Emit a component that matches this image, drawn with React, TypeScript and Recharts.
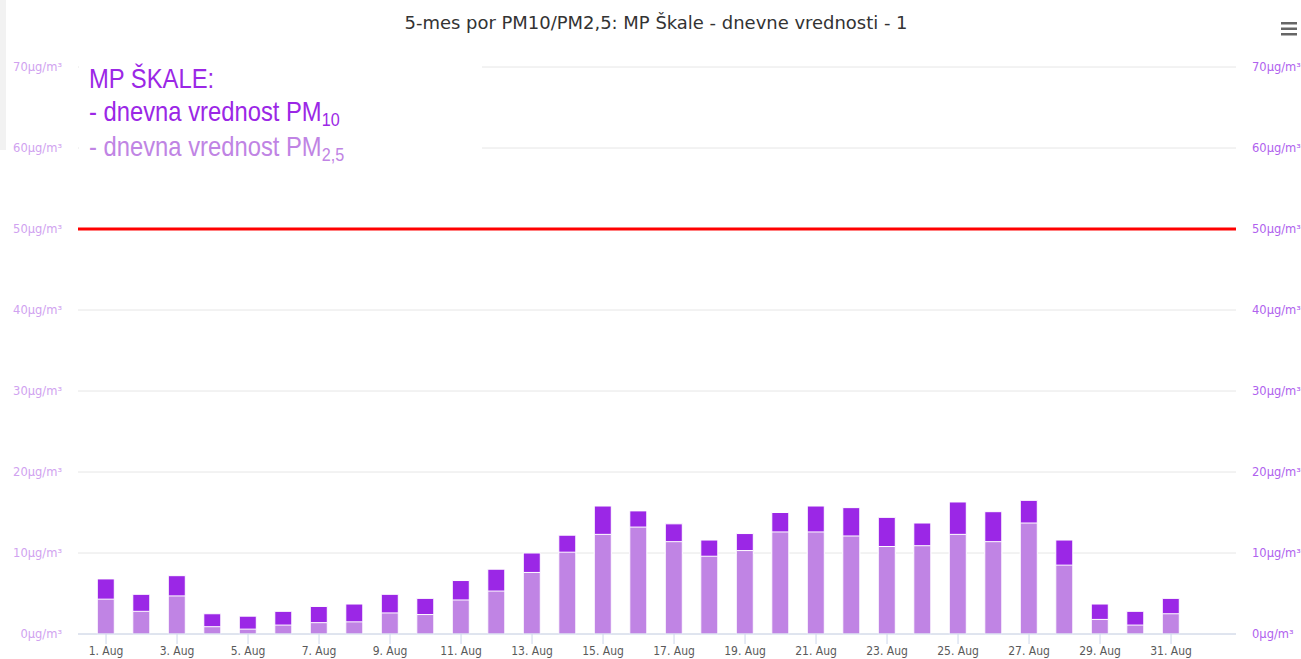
import React from "react";
import { ComposedChart, Bar, Line, XAxis, YAxis, CartesianGrid, ReferenceLine } from "recharts";

const days = [1, 2, 3, 4, 5, 6, 7, 8, 9, 10, 11, 12, 13, 14, 15, 16, 17, 18, 19, 20, 21, 22, 23, 24, 25, 26, 27, 28, 29, 30, 31];
const pm10 = [6.8, 4.9, 7.2, 2.5, 2.2, 2.8, 3.4, 3.7, 4.9, 4.4, 6.6, 8.0, 10.0, 12.2, 15.8, 15.2, 13.6, 11.6, 12.4, 15.0, 15.8, 15.6, 14.4, 13.7, 16.3, 15.1, 16.5, 11.6, 3.7, 2.8, 4.4];
const pm25 = [4.3, 2.8, 4.7, 0.9, 0.6, 1.1, 1.4, 1.5, 2.6, 2.4, 4.2, 5.3, 7.6, 10.1, 12.3, 13.2, 11.4, 9.6, 10.3, 12.6, 12.6, 12.1, 10.8, 10.9, 12.3, 11.4, 13.7, 8.5, 1.8, 1.1, 2.5];
const dayTicks = [1, 3, 5, 7, 9, 11, 13, 15, 17, 19, 21, 23, 25, 27, 29, 31];
const yTicks = [0, 10, 20, 30, 40, 50, 60, 70];
const limitValue = 50;

const title = "5-mes por PM10/PM2,5: MP Škale - dnevne vrednosti - 1";

const data = days.map((d, i) => ({ day: d, pm10: pm10[i], pm25: pm25[i] }));

const DARK = "#9b27e6";
const LIGHT = "#c084e4";
const tickFont = "DejaVu Sans, sans-serif";

export default function App() {
  const fmtY = (v: number) => `${v}µg/m³`;
  return (
    <div style={{ position: "absolute", left: 0, top: 0, width: 1301, height: 659, background: "#fff" }}>
      <ComposedChart width={1301} height={659} data={data} margin={{ top: 67, right: 0, bottom: 0, left: 0 }}>
        <CartesianGrid vertical={false} stroke="#e6e6e6" />
        <XAxis
          dataKey="day"
          type="number"
          domain={[0.21, 32.83]}
          allowDataOverflow
          ticks={dayTicks}
          tickFormatter={(d: number) => `${d}. Aug`}
          height={25}
          tickSize={10}
          tickMargin={2}
          stroke="#ccd6eb"
          tick={{ fill: "#5a5a5a", fontSize: 12, fontFamily: "DejaVu Sans Condensed, DejaVu Sans" }}
        />
        <XAxis xAxisId="b" dataKey="day" type="number" domain={[0.21, 32.83]} allowDataOverflow hide />
        <YAxis
          domain={[0, 70]}
          ticks={yTicks}
          width={78}
          axisLine={false}
          tickLine={false}
          tickSize={0}
          tickMargin={16}
          tickFormatter={fmtY}
          tick={{ fill: "#d0a2f0", fontSize: 11.5, fontFamily: tickFont }}
        />
        <YAxis
          yAxisId="r"
          orientation="right"
          domain={[0, 70]}
          ticks={yTicks}
          width={65}
          axisLine={false}
          tickLine={false}
          tickSize={0}
          tickMargin={16}
          tickFormatter={fmtY}
          tick={{ fill: "#b062ee", fontSize: 11.5, fontFamily: tickFont }}
        />
        <Bar dataKey="pm10" fill={DARK} stroke="#fff" strokeWidth={1} barSize={17} isAnimationActive={false} />
        <Bar xAxisId="b" dataKey="pm25" fill={LIGHT} stroke="#fff" strokeWidth={1} barSize={17} isAnimationActive={false} />
        {/* invisible series so the right axis gets drawn */}
        <Line yAxisId="r" dataKey="pm10" stroke="none" dot={false} activeDot={false} legendType="none" isAnimationActive={false} />
        <ReferenceLine y={limitValue} stroke="#ff0000" strokeWidth={3} />
      </ComposedChart>
      <svg width={1301} height={659} style={{ position: "absolute", left: 0, top: 0, pointerEvents: "none" }}>
        <rect x={0} y={0} width={6} height={150} fill="#f2f2f2" />
        <text x={656} y={29} textAnchor="middle" fontSize={18} fill="#333" fontFamily="DejaVu Sans Condensed, DejaVu Sans" textLength={503} lengthAdjust="spacingAndGlyphs">
          {title}
        </text>
        <g fill="#666">
          <rect x={1281} y={22} width={16} height={2.5} />
          <rect x={1281} y={27.5} width={16} height={2.5} />
          <rect x={1281} y={33} width={16} height={2.5} />
        </g>
        <rect x={79} y={58} width={403} height={102} fill="#fff" />
        <g transform="translate(89,0) scale(0.85,1)" fontFamily="Liberation Sans, Arial, sans-serif" fontSize={28}>
          <text x={0} y={88} fill={DARK}>MP ŠKALE:</text>
          <text x={0} y={121} fill={DARK}>
            - dnevna vrednost PM<tspan fontSize={19} dy={5}>10</tspan>
          </text>
          <text x={0} y={156} fill={LIGHT}>
            - dnevna vrednost PM<tspan fontSize={19} dy={5}>2,5</tspan>
          </text>
        </g>
      </svg>
    </div>
  );
}
